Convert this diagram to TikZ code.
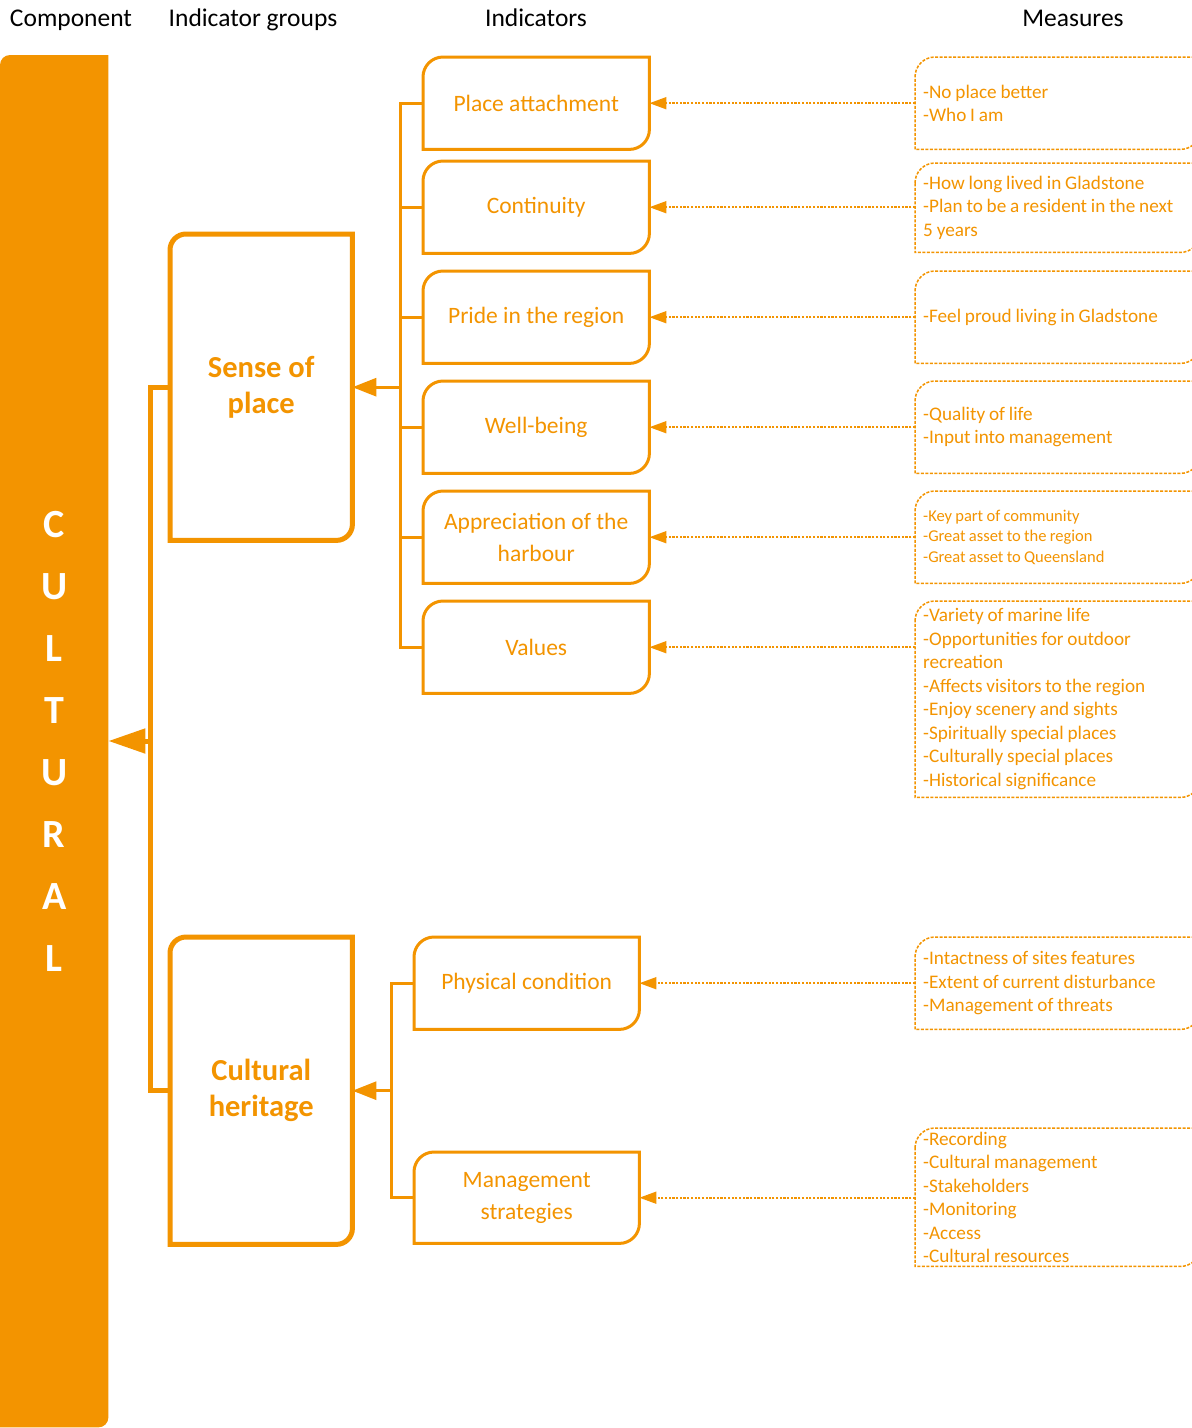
\documentclass[tikz,border=0pt]{standalone}
\usepackage{fontspec}
\setmainfont{Carlito}
\usetikzlibrary{arrows.meta,calc}
\definecolor{org}{RGB}{243,148,0}
\newcommand\rdshape[3]{%
  \draw[#3] ($(#1.north west)+(0,-#2)$) arc[start angle=180,end angle=90,radius=#2]
    -- (#1.north east) -- ($(#1.south east)+(0,#2)$) arc[start angle=0,end angle=-90,radius=#2]
    -- (#1.south west) -- cycle;}
\tikzset{
  hdr/.style={font=\fontsize{25.5pt}{28pt}\selectfont, anchor=base, text=black},
  indbox/.style={minimum width=226pt, minimum height=92pt, inner sep=0pt, anchor=north west,
     text=org, font=\fontsize{23.5pt}{32pt}\selectfont, align=center},
  grpbox/.style={minimum width=182pt, minimum height=306pt, inner sep=0pt, anchor=north west,
     text=org, font=\bfseries\fontsize{30.5pt}{36pt}\selectfont, align=center},
  measbox/.style={minimum width=285pt, inner xsep=8pt, inner ysep=0pt, text width=269pt,
     anchor=north west, text=org, font=\fontsize{19.2pt}{23.5pt}\selectfont, align=left,
     execute at begin node={\spaceskip=0.2em\relax}},
  indline/.style={draw=org, line width=3pt},
  grpline/.style={draw=org, line width=5pt},
  measline/.style={draw=org, line width=1.5pt, dash pattern=on 3pt off 1.5pt},
  conn/.style={draw=org, line width=3pt},
  bigconn/.style={draw=org, line width=5pt},
  dotarrow/.style={draw=org, line width=1.6pt, dash pattern=on 2.2pt off 1.5pt,
     -{Triangle[length=17pt,width=12pt]}},
}
\begin{document}
\begin{tikzpicture}[x=1pt,y=1pt]
\useasboundingbox (0,0) rectangle (1192,-1428);
\fill[white] (0,0) rectangle (1192,-1428);
\clip (0,0) rectangle (1192,-1428);

% headers
\node[hdr] (h1) at (71,-26) {Component};
\node[hdr] (h2) at (253,-26) {Indicator groups};
\node[hdr] (h3) at (536,-26) {Indicators};
\node[hdr] (h4) at (1073,-26) {Measures};

% component bar
\node[minimum width=108pt, minimum height=1372pt, inner sep=0pt, anchor=north west] (bar) at (0,-55) {};
\rdshape{bar}{10}{fill=org,draw=none}
\node[font=\bfseries\fontsize{40pt}{62pt}\selectfont, text=white, align=center] (cult) at (bar.center)
  {C\\U\\L\\T\\U\\R\\A\\L};

% groups
\node[grpbox] (sp) at (170,-234) {Sense of\\place};
\rdshape{sp}{16}{grpline}
\node[grpbox, minimum height=307pt] (ch) at (170,-937) {Cultural\\heritage};
\rdshape{ch}{16}{grpline}

% indicators
\node[indbox] (i1) at (423,-57) {Place attachment};
\node[indbox] (i2) at (423,-161) {Continuity};
\node[indbox] (i3) at (423,-271) {Pride in the region};
\node[indbox] (i4) at (423,-381) {Well-being};
\node[indbox] (i5) at (423,-491) {Appreciation of the\\harbour};
\node[indbox] (i6) at (423,-601) {Values};
\node[indbox, minimum width=225pt] (i7) at (414,-937) {Physical condition};
\node[indbox, minimum width=225pt, minimum height=91pt] (i8) at (414,-1152) {Management\\strategies};
\foreach \k in {1,...,8} {\rdshape{i\k}{20}{indline}}

% measures
\node[measbox, minimum height=92pt] (m1) at (915,-57) {-No place better\\-Who I am};
\node[measbox, minimum height=89pt] (m2) at (915,-163) {-How long lived in Gladstone\\-Plan to be a resident in the next\\5 years};
\node[measbox, minimum height=92pt] (m3) at (915,-271) {-Feel proud living in Gladstone};
\node[measbox, minimum height=92pt] (m4) at (915,-381) {-Quality of life\\-Input into management};
\node[measbox, minimum height=92pt, font=\fontsize{16.5pt}{20.5pt}\selectfont] (m5) at (915,-491) {-Key part of community\\-Great asset to the region\\-Great asset to Queensland};
\node[measbox, minimum height=196pt] (m6) at (915,-601) {-Variety of marine life\\-Opportunities for outdoor\\recreation\\-Affects visitors to the region\\-Enjoy scenery and sights\\-Spiritually special places\\-Culturally special places\\-Historical significance};
\node[measbox, minimum height=92pt] (m7) at (915,-937) {-Intactness of sites features\\-Extent of current disturbance\\-Management of threats};
\node[measbox, minimum height=138pt] (m8) at (915,-1128) {-Recording\\-Cultural management\\-Stakeholders\\-Monitoring\\-Access\\-Cultural resources};
\foreach \k in {1,...,8} {\rdshape{m\k}{20}{measline}}

% measures -> indicators
\foreach \k in {1,...,8} {\draw[dotarrow] (m\k.west |- i\k.east) -- (i\k.east);}

% indicators -> sense of place
\path (sp.east) ++(48,0) coordinate (b1);
\draw[conn] (i1.west) -- (i1.west -| b1) -- (i6.west -| b1) -- (i6.west);
\foreach \k in {2,...,5} {\draw[conn] (i\k.west) -- (i\k.west -| b1);}
\draw[conn, -{Triangle[length=24pt,width=18pt]}] (b1) -- (sp.east);

% indicators -> cultural heritage
\path (ch.east) ++(39,0) coordinate (b2);
\draw[conn] (i7.west) -- (i7.west -| b2) -- (i8.west -| b2) -- (i8.west);
\draw[conn, -{Triangle[length=24pt,width=18pt]}] (b2) -- (ch.east);

% groups -> component
\coordinate (j) at (150,-741);
\draw[bigconn] (sp.west) -| (j);
\draw[bigconn] (ch.west) -| (j);
\draw[bigconn, -{Triangle[length=37pt,width=24pt]}] (j) -- (j -| bar.east);
\end{tikzpicture}
\end{document}
